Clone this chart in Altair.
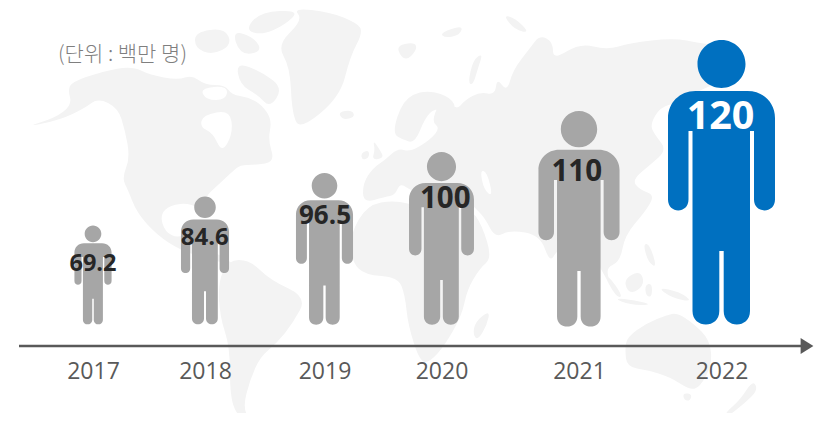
import altair as alt
import pandas as pd

# ---- data ----
years = [2017, 2018, 2019, 2020, 2021, 2022]
values = [69.2, 84.6, 96.5, 100, 110, 120]
unit_label = ["(단위 : 백만 명)"]

# ---- layout / style (scale ranges in px) ----
W, H = 789, 338
OX, OY = 19, 8           # plot origin in the photographed page
person_x = [p - OX for p in [93, 205, 324.5, 441.5, 579, 721.5]]
person_foot = [p - OY for p in [324.5, 324.5, 325, 325, 327, 325]]
person_height = [99, 128, 152, 173, 216, 285]
label_x = [p - OX for p in [93, 204.7, 325, 445.3, 576.7, 720.5]]
label_y = [p - OY for p in [263.5, 237.5, 215.5, 198.5, 171.5, 117]]
label_size = [23.5, 24, 26, 29.5, 29.5, 39.5]
person_color = ["#A6A6A6"] * 5 + ["#0070C0"]
label_color = ["#262626"] * 5 + ["#FFFFFF"]
FONT = "Open Sans"
GREY = "#595959"


# ---- pictogram glyph: feet on origin, height of two symbol units ----
def person_path():
    u = 142.5
    f = lambda v: f"{v / u:.4f}"
    hr, hy = 24, -261
    seg = [
        f"M{f(-hr)},{f(hy)}A{f(hr)},{f(hr)} 0 1,1 {f(hr)},{f(hy)}A{f(hr)},{f(hr)} 0 1,1 {f(-hr)},{f(hy)}Z",
        f"M{f(-26)},{f(-234)}L{f(26)},{f(-234)}",
        f"C{f(42)},{f(-234)} {f(53.5)},{f(-222)} {f(53.5)},{f(-207)}",
        f"L{f(53.5)},{f(-125.5)}",
        f"C{f(53.5)},{f(-111)} {f(32.5)},{f(-111)} {f(32.5)},{f(-125.5)}",
        f"L{f(32.5)},{f(-194)}L{f(28.5)},{f(-194)}L{f(28.5)},{f(-14)}",
        f"C{f(28.5)},{f(4)} {f(2.2)},{f(4)} {f(2.2)},{f(-14)}",
        f"L{f(2.2)},{f(-74)}L{f(-2.2)},{f(-74)}L{f(-2.2)},{f(-14)}",
        f"C{f(-2.2)},{f(4)} {f(-29)},{f(4)} {f(-29)},{f(-14)}",
        f"L{f(-29)},{f(-194)}L{f(-33)},{f(-194)}L{f(-33)},{f(-125.5)}",
        f"C{f(-33)},{f(-111)} {f(-53.5)},{f(-111)} {f(-53.5)},{f(-125.5)}",
        f"L{f(-53.5)},{f(-207)}C{f(-53.5)},{f(-222)} {f(-42)},{f(-234)} {f(-26)},{f(-234)}Z",
    ]
    return "".join(seg)


# ---- decorative world map silhouette (page px) ----
land = [
    # North America
    [(68,90),(72,82),(100,72),(132,66),(150,75),(178,80),(192,75),(205,85),(225,85),(232,95),(248,97),(262,105),
     (272,120),(268,140),(275,162),(255,165),(240,165),(232,172),(218,185),(205,197),(203,212),(190,203),(170,205),
     (160,215),(165,232),(178,238),(188,232),(195,245),(215,252),(235,265),(228,264),(205,258),(180,250),(157,235),
     (137,213),(128,190),(122,178),(130,158),(125,130),(118,108),(98,98),(85,108),(60,120),(25,127),(55,118),(72,105)],
    # Arctic Canada
    [(236,62),(262,72),(283,88),(270,108),(258,95),(240,85)],
    [(260,12),(300,10),(285,25),(262,35),(245,30)],
    [(195,32),(225,28),(232,45),(212,55),(195,48)],
    [(232,30),(255,38),(262,52),(240,55)],
    # Greenland
    [(293,8),(330,12),(357,23),(363,32),(350,57),(340,97),(300,130),(292,113),(290,67),(277,45),(303,20)],
    # Iceland, Britain, Ireland, Svalbard, Novaya Zemlya, Arctic Russia
    [(338,112),(352,110),(355,117),(343,120)],
    [(373,140),(380,150),(384,158),(372,160),(375,150)],
    [(361,153),(369,150),(369,158),(362,160)],
    [(395,46),(415,42),(417,50),(405,62)],
    [(468,83),(473,60),(483,53),(478,68),(473,85)],
    [(440,33),(463,25),(460,35),(445,38)],
    [(503,15),(515,18),(530,33),(515,30)],
    # Scandinavia
    [(392,133),(403,100),(423,90),(447,95),(457,107),(447,112),(435,108),(425,118),(415,143),(403,140)],
    # Eurasia
    [(363,183),(373,168),(385,160),(398,148),(410,152),(430,140),(440,128),(432,122),(438,105),(448,100),(457,110),
     (465,100),(480,92),(495,95),(497,78),(507,92),(513,70),(530,48),(540,35),(553,42),(553,60),(580,43),(607,50),
     (630,43),(673,38),(700,43),(715,45),(725,80),(700,90),(680,102),(660,107),(650,125),(655,135),(667,150),(650,165),
     (632,180),(640,190),(655,195),(645,212),(625,235),(620,262),(605,268),(613,290),(600,268),(592,250),(575,243),
     (557,250),(550,263),(540,235),(510,230),(495,238),(485,218),(475,208),(468,200),(440,205),(425,195),(410,190),
     (400,183),(395,195),(385,197),(363,203)],
    # Africa
    [(367,205),(395,200),(420,207),(445,210),(470,208),(482,225),(492,258),(480,268),(467,290),(462,315),(445,345),
     (430,362),(420,362),(408,325),(405,295),(398,277),(365,275),(352,262),(350,235)],
    [(490,310),(487,325),(478,340),(473,335),(475,322)],
    # South America
    [(228,260),(250,260),(270,280),(307,297),(293,323),(277,343),(260,357),(250,380),(243,407),(250,420),(238,417),
     (230,397),(230,347),(220,317),(218,283)],
    # SE Asia islands
    [(603,273),(612,280),(623,297),(616,297)],
    [(613,298),(635,300),(653,305),(630,305)],
    [(623,280),(640,270),(645,285),(630,295)],
    [(643,243),(650,245),(657,268),(648,262)],
    [(645,285),(652,283),(652,297),(646,296)],
    [(657,287),(680,292),(693,302),(672,298)],
    # Australia, Tasmania, New Zealand
    [(627,337),(647,323),(667,315),(677,313),(693,323),(710,340),(712,365),(700,387),(690,390),(670,377),(647,370),
     (627,367),(625,350)],
    [(683,393),(692,394),(690,401),(684,400)],
    [(753,380),(758,390),(745,403),(727,417),(725,413),(740,400)],
]
seas = [
    [(203,115),(230,110),(233,133),(222,153),(213,133),(200,127)],  # Hudson Bay
    [(480,170),(487,172),(493,197),(484,190)],                      # Caspian
    [(228,86),(200,88),(206,100),(226,100)],                        # Arctic bays
]
MAP_CX, MAP_CY, MAP_U = 411, 210, 420


def poly(pts):
    # rounded outline: each vertex becomes the control point between edge midpoints
    n = [((x - MAP_CX) / MAP_U, (y - MAP_CY) / MAP_U) for x, y in pts]
    mid = [((n[i][0] + n[(i + 1) % len(n)][0]) / 2, (n[i][1] + n[(i + 1) % len(n)][1]) / 2) for i in range(len(n))]
    s = f"M{mid[-1][0]:.4f},{mid[-1][1]:.4f}"
    for i, p in enumerate(n):
        s += f"Q{p[0]:.4f},{p[1]:.4f} {mid[i][0]:.4f},{mid[i][1]:.4f}"
    return s + "Z"


land_path = "".join(poly(p) for p in land)
sea_path = "".join(poly(p) for p in seas)

df = pd.DataFrame({"year": years, "value": values})
one = pd.DataFrame({"unit": unit_label})


def pin(scale_range):
    return alt.Scale(domain=values, range=scale_range, zero=False, nice=False)


map_layer = alt.Chart(one).mark_point(
    shape=land_path, filled=True, color="#F3F3F3", opacity=1, strokeWidth=0, size=(2 * MAP_U) ** 2
).encode(x=alt.value(MAP_CX - OX), y=alt.value(MAP_CY - OY))

sea_layer = alt.Chart(one).mark_point(
    shape=sea_path, filled=True, color="#FFFFFF", opacity=1, strokeWidth=0, size=(2 * MAP_U) ** 2
).encode(x=alt.value(MAP_CX - OX), y=alt.value(MAP_CY - OY))

baseline = alt.Chart(one).mark_rule(color=GREY, strokeWidth=2.5).encode(
    x=alt.value(0), x2=alt.value(783), y=alt.value(H)
)

arrow = alt.Chart(one).mark_point(
    shape="M-0.8,-1L0.8,0L-0.8,1Z", filled=True, color=GREY, opacity=1, strokeWidth=0, size=256
).encode(x=alt.value(788), y=alt.value(H))

people = alt.Chart(df).mark_point(shape=person_path(), filled=True, opacity=1, strokeWidth=0).encode(
    x=alt.X(
        "year:Q",
        scale=alt.Scale(domain=years, range=person_x, zero=False, nice=False),
        axis=alt.Axis(
            values=years, format="d", title=None, grid=False, domain=False, ticks=False,
            labelFont=FONT, labelFontSize=23, labelColor=GREY, labelPadding=14, labelAngle=0,
            labelOverlap=False, labelFlush=False, zindex=1,
        ),
    ),
    y=alt.Y("value:Q", scale=pin(person_foot), axis=None),
    size=alt.Size("value:Q", scale=pin([h ** 2 for h in person_height]), legend=None),
    color=alt.Color("year:O", scale=alt.Scale(domain=years, range=person_color), legend=None),
)

labels = alt.Chart(df).mark_text(font=FONT, fontWeight="bold", baseline="middle", align="center").encode(
    x=alt.X("value:Q", scale=pin(label_x), axis=None),
    y=alt.Y("value:Q", scale=pin(label_y), axis=None),
    size=alt.Size("value:Q", scale=pin(label_size), legend=None),
    color=alt.Color("year:O", scale=alt.Scale(domain=years, range=label_color), legend=None),
    text=alt.Text("value:Q"),
)

unit = alt.Chart(one).mark_text(
    font="Noto Sans CJK KR", fontSize=21, fontWeight=300, color="#7F7F7F", align="left", baseline="middle"
).encode(x=alt.value(58 - OX), y=alt.value(55 - OY), text="unit:N")

chart = (
    alt.layer(map_layer, sea_layer, baseline, arrow, people, labels, unit)
    .resolve_scale(x="independent", y="independent", size="independent", color="independent")
    .properties(
        width=W, height=H,
        padding={"left": OX - 8, "top": 0, "right": 6, "bottom": 67},
        autosize=alt.AutoSizeParams(type="none"),
        background="#FFFFFF",
    )
    .configure_view(stroke=None)
)

chart.save("out.html", embed_options={"renderer": "svg", "actions": False})
